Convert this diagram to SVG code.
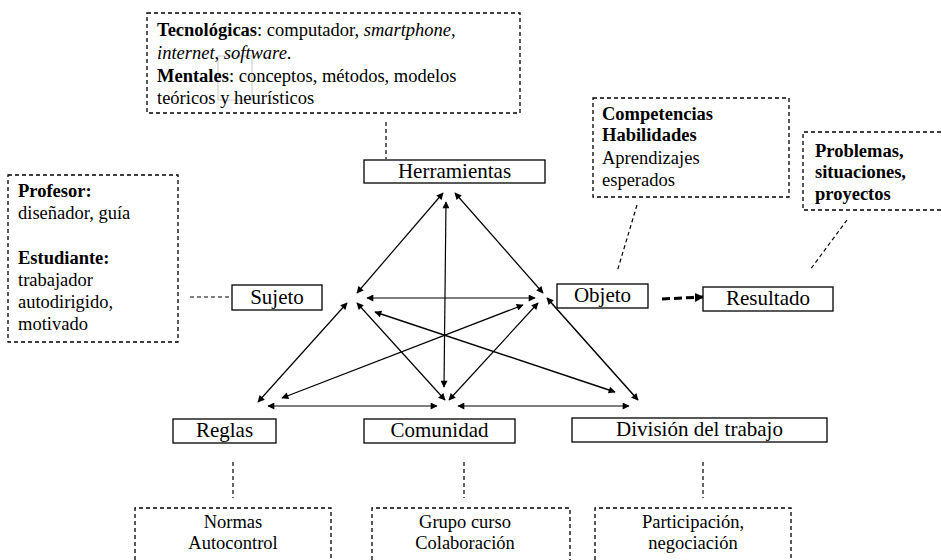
<svg xmlns="http://www.w3.org/2000/svg" width="941" height="560" viewBox="0 0 941 560">
<style>
.box{fill:#fff;stroke:#000;stroke-width:1.3}
.dbox{fill:none;stroke:#000;stroke-width:1.3;stroke-dasharray:4 3}
.dl{fill:none;stroke:#000;stroke-width:1.2;stroke-dasharray:4 3}
.ar{fill:none;stroke:#000;stroke-width:1.2;marker-start:url(#ah);marker-end:url(#ah)}
</style>
<defs>
<marker id="ah" viewBox="0 0 10 10" refX="9" refY="5" markerWidth="9" markerHeight="7" markerUnits="userSpaceOnUse" orient="auto-start-reverse">
<path d="M0,0 L10,5 L0,10 Z" fill="#000"/>
</marker>
<marker id="ahb" viewBox="0 0 10 10" refX="9" refY="5" markerWidth="9" markerHeight="9" markerUnits="userSpaceOnUse" orient="auto">
<path d="M0,0 L10,5 L0,10 Z" fill="#000"/>
</marker>
</defs>
<rect width="941" height="560" fill="#fff"/>

<g id="connectors">
<line class="ar" x1="443" y1="193" x2="357" y2="293"/>
<line class="ar" x1="455" y1="193" x2="543" y2="293"/>
<line class="ar" x1="446" y1="202" x2="444" y2="387"/>
<line class="ar" x1="367" y1="298" x2="535" y2="298"/>
<line class="ar" x1="347" y1="303" x2="258" y2="402"/>
<line class="ar" x1="357" y1="303" x2="445" y2="400"/>
<line class="ar" x1="375" y1="312" x2="615" y2="392" style="stroke-width:1.5"/>
<line class="ar" x1="523" y1="305" x2="282" y2="398"/>
<line class="ar" x1="538" y1="303" x2="449" y2="400"/>
<line class="ar" x1="547" y1="298" x2="638" y2="400" style="stroke-width:1.5"/>
<line class="ar" x1="268" y1="406" x2="437" y2="406"/>
<line class="ar" x1="458" y1="406" x2="629" y2="406"/>
<line x1="662" y1="299" x2="703" y2="297" style="stroke:#000;stroke-width:3;stroke-dasharray:8 4;marker-end:url(#ahb)"/>
<line class="dl" x1="386" y1="122" x2="386" y2="159"/>
<line class="dl" x1="190" y1="297" x2="232" y2="297"/>
<line class="dl" x1="637" y1="205" x2="617" y2="272"/>
<line class="dl" x1="847" y1="220" x2="810" y2="270"/>
<line class="dl" x1="233" y1="462" x2="233" y2="498"/>
<line class="dl" x1="464" y1="462" x2="464" y2="498"/>
<line class="dl" x1="703" y1="462" x2="703" y2="498"/>
</g>

<g id="herramientas-desc">
<rect class="dbox" x="147" y="13" width="373" height="100"/>
<rect x="218" y="56" width="34" height="44" fill="none" stroke="#c8c8c8" stroke-width="1"/>
<text style="font-family:'Liberation Serif'" font-size="18.5" x="157" y="36"><tspan font-weight="bold">Tecnológicas</tspan>: computador, <tspan font-style="italic">smartphone</tspan>,</text>
<text style="font-family:'Liberation Serif'" font-size="18.5" x="157" y="59"><tspan font-style="italic">internet</tspan>, <tspan font-style="italic">software</tspan>.</text>
<text style="font-family:'Liberation Serif'" font-size="18.5" x="157" y="82"><tspan font-weight="bold">Mentales</tspan>: conceptos, métodos, modelos</text>
<text style="font-family:'Liberation Serif'" font-size="18.5" x="157" y="104">teóricos y heurísticos</text>
</g>

<g id="sujeto-desc">
<rect class="dbox" x="8" y="175" width="170" height="167"/>
<text style="font-family:'Liberation Serif'" font-size="18.5" font-weight="bold" x="18" y="197">Profesor:</text>
<text style="font-family:'Liberation Serif'" font-size="18.5" x="18" y="219">diseñador, guía</text>
<text style="font-family:'Liberation Serif'" font-size="18.5" font-weight="bold" x="18" y="264">Estudiante:</text>
<text style="font-family:'Liberation Serif'" font-size="18.5" x="18" y="286">trabajador</text>
<text style="font-family:'Liberation Serif'" font-size="18.5" x="18" y="308">autodirigido,</text>
<text style="font-family:'Liberation Serif'" font-size="18.5" x="18" y="330">motivado</text>
</g>

<g id="objeto-desc">
<rect class="dbox" x="593" y="98" width="196" height="99"/>
<text style="font-family:'Liberation Serif'" font-size="18.5" font-weight="bold" x="602" y="120">Competencias</text>
<text style="font-family:'Liberation Serif'" font-size="18.5" font-weight="bold" x="602" y="141">Habilidades</text>
<text style="font-family:'Liberation Serif'" font-size="18.5" x="602" y="164">Aprendizajes</text>
<text style="font-family:'Liberation Serif'" font-size="18.5" x="602" y="186">esperados</text>
</g>

<g id="resultado-desc">
<path class="dbox" d="M941,132 H803 V210 H941"/>
<text style="font-family:'Liberation Serif'" font-size="18.5" font-weight="bold" x="815" y="157">Problemas,</text>
<text style="font-family:'Liberation Serif'" font-size="18.5" font-weight="bold" x="815" y="178">situaciones,</text>
<text style="font-family:'Liberation Serif'" font-size="18.5" font-weight="bold" x="815" y="200">proyectos</text>
</g>

<g id="herramientas">
<rect class="box" x="364" y="160" width="181" height="23"/>
<text style="font-family:'Liberation Serif'" font-size="21" text-anchor="middle" x="454.5" y="178">Herramientas</text>
</g>
<g id="sujeto">
<rect class="box" x="232" y="285" width="90" height="25"/>
<text style="font-family:'Liberation Serif'" font-size="21" text-anchor="middle" x="277" y="304">Sujeto</text>
</g>
<g id="objeto">
<rect class="box" x="557" y="284" width="91" height="24"/>
<text style="font-family:'Liberation Serif'" font-size="21" text-anchor="middle" x="602.5" y="302">Objeto</text>
</g>
<g id="resultado">
<rect class="box" x="703" y="287" width="130" height="24"/>
<text style="font-family:'Liberation Serif'" font-size="21" text-anchor="middle" x="768" y="305">Resultado</text>
</g>
<g id="reglas">
<rect class="box" x="173" y="419" width="103" height="24"/>
<text style="font-family:'Liberation Serif'" font-size="21" text-anchor="middle" x="224.5" y="437">Reglas</text>
</g>
<g id="comunidad">
<rect class="box" x="364" y="419" width="151" height="24"/>
<text style="font-family:'Liberation Serif'" font-size="21" text-anchor="middle" x="439.5" y="437">Comunidad</text>
</g>
<g id="division">
<rect class="box" x="572" y="418" width="255" height="24"/>
<text style="font-family:'Liberation Serif'" font-size="21" text-anchor="middle" x="699.5" y="436">División del trabajo</text>
</g>

<g id="reglas-desc">
<path class="dbox" d="M135,560 V508 H331 V560"/>
<text style="font-family:'Liberation Serif'" font-size="18.5" text-anchor="middle" x="233" y="528">Normas</text>
<text style="font-family:'Liberation Serif'" font-size="18.5" text-anchor="middle" x="233" y="549">Autocontrol</text>
</g>
<g id="comunidad-desc">
<path class="dbox" d="M372,560 V508 H570 V560"/>
<text style="font-family:'Liberation Serif'" font-size="18.5" text-anchor="middle" x="465" y="528">Grupo curso</text>
<text style="font-family:'Liberation Serif'" font-size="18.5" text-anchor="middle" x="465" y="549">Colaboración</text>
</g>
<g id="division-desc">
<path class="dbox" d="M595,560 V508 H791 V560"/>
<text style="font-family:'Liberation Serif'" font-size="18.5" text-anchor="middle" x="693" y="528">Participación,</text>
<text style="font-family:'Liberation Serif'" font-size="18.5" text-anchor="middle" x="693" y="549">negociación</text>
</g>
</svg>
